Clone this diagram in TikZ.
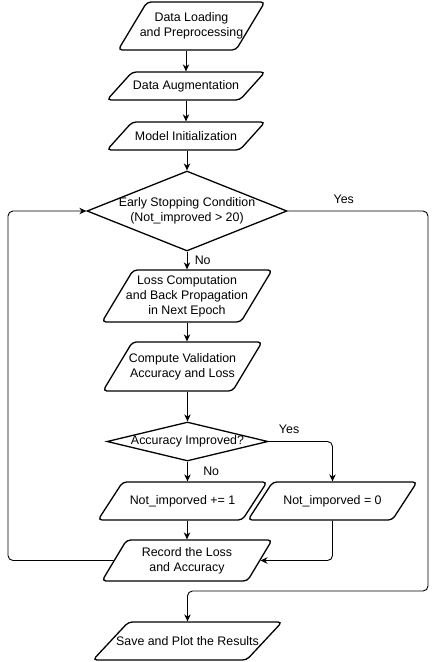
\documentclass[tikz,border=0pt]{standalone}
\usepackage{fontspec}
\setmainfont{Liberation Sans}
\usetikzlibrary{shapes.geometric,arrows.meta}
\tikzset{>={Stealth[length=7pt,width=6.5pt]}}
\tikzset{%
    io/.style={%
        trapezium, draw, line width=1.3pt, rounded corners=4pt,
        trapezium left angle=#1, trapezium right angle=180-#1
    },
    io/.default=59,
    decision/.style={%
        diamond, draw, line width=1.3pt,
        inner xsep=-60pt, inner ysep=-10pt, align=center
    },
    flow/.style={->, line width=0.9pt, rounded corners=5pt}
}
\begin{document}
\begin{tikzpicture}[x=1pt,y=-1pt,font=\fontsize{12.4}{14.8}\selectfont,every label/.style={align=center}]
    \useasboundingbox (0,0) rectangle (436,662);
    \node[io=59,inner xsep=44.5pt,inner ysep=24pt,label=center:{Data Loading\\and Preprocessing}] (load) at (191.5,26) {};
    \node[io=48,inner xsep=53.8pt,inner ysep=14pt,label=center:{Data Augmentation}] (aug) at (186,86) {};
    \node[io=48,inner xsep=53.8pt,inner ysep=14pt,label=center:{Model Initialization}] (model) at (186,136) {};
    \node[decision,minimum width=200pt,minimum height=80pt] (early) at (187,211) {Early Stopping Condition\\(Not\_improved > 20)};
    \node[io=59,inner xsep=53.8pt,inner ysep=26pt,label=center:{Loss Computation\\and Back Propagation\\in Next Epoch}] (loss) at (187,296) {};
    \node[io=59,inner xsep=50.1pt,inner ysep=24.5pt,label=center:{Compute Validation\\Accuracy and Loss}] (valid) at (182.5,366.5) {};
    \node[decision,minimum width=161pt,minimum height=39pt] (acc) at (187.5,441.5) {Accuracy Improved?};
    \node[io=57,inner xsep=59.8pt,inner ysep=19pt,label=center:{Not\_imporved += 1}] (inc) at (182.5,501) {};
    \node[io=57,inner xsep=59.8pt,inner ysep=19pt,label=center:{Not\_imporved = 0}] (reset) at (332.5,501) {};
    \node[io=59,inner xsep=60.4pt,inner ysep=20.5pt,label=center:{Record the Loss\\and Accuracy}] (record) at (187,560.5) {};
    \node[io=47,inner xsep=59.1pt,inner ysep=19pt,label=center:{Save and Plot the Results}] (save) at (187.5,641) {};

    \coordinate (back) at (8,211);
    \coordinate (out) at (428,591);

    \draw[flow] (load.south -| aug) -- (aug);
    \draw[flow] (aug) -- (model);
    \draw[flow] (model.south -| early) -- (early);
    \draw[flow] (early) -- node[right=4pt]{No} (loss);
    \draw[flow] (loss.south) -- (loss.south |- valid.north);
    \draw[flow] (valid.south -| acc) -- (acc);
    \draw[flow] (acc.south) -- node[right=12pt]{No} (acc.south |- inc.north);
    \draw[flow] (acc.east) -| node[pos=0.16,above=4pt]{Yes} (reset);
    \draw[flow] (inc.south -| record) -- (record);
    \draw[flow] (reset.south) |- (record.east);
    \draw[flow] (record.west) -| (back) -- (early.west);
    \draw[flow] (early.east) -| node[pos=0.2,above=4pt]{Yes} (out) -| (save);
\end{tikzpicture}
\end{document}
